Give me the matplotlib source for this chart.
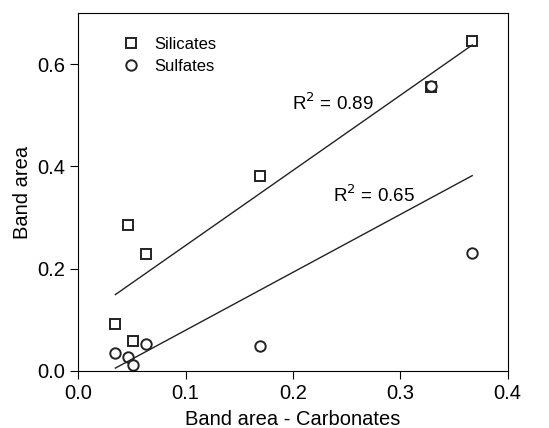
import numpy as np
import matplotlib
matplotlib.use('Agg')
from matplotlib import pyplot as plt

plt.rcParams['font.family'] = ['Liberation Sans', 'DejaVu Sans']

carbonates = [0.367, 0.329, 0.169, 0.046, 0.063, 0.0345, 0.051]
silicates = [0.646, 0.555, 0.382, 0.285, 0.228, 0.091, 0.059]
sulfates = [0.231, 0.558, 0.049, 0.027, 0.052, 0.034, 0.012]

r2_labels = ['R$^2$ = 0.89', 'R$^2$ = 0.65']

fig = plt.figure(figsize=(5.49, 4.28), dpi=100)
ax = fig.add_axes([0.1427, 0.1339, 0.782, 0.835])

x = np.array(carbonates)
ax.plot(x, silicates, 's', ms=7, mfc='white', mec='#222222', mew=1.4, label='Silicates')
ax.plot(x, sulfates, 'o', ms=7.5, mfc='white', mec='#222222', mew=1.4, label='Sulfates')

# regression lines over the data range
xs = np.array([x.min(), x.max()])
for ys in (silicates, sulfates):
    k, b = np.polyfit(x, ys, 1)
    ax.plot(xs, k * xs + b, color='#222222', lw=1.0)

ax.text(0.199, 0.523, r2_labels[0], fontsize=13.5, va='center')
ax.text(0.2376, 0.343, r2_labels[1], fontsize=13.5, va='center')

ax.set_xlim(0, 0.4)
ax.set_ylim(0, 0.7)
ax.set_xticks([0.0, 0.1, 0.2, 0.3, 0.4])
ax.set_yticks([0.0, 0.2, 0.4, 0.6])
ax.tick_params(labelsize=14.5, direction='out', length=6, top=False, right=False)
ax.set_xlabel('Band area - Carbonates', fontsize=14.5, labelpad=5)
ax.set_ylabel('Band area', fontsize=14.5)

ax.legend(loc='upper left', frameon=False, fontsize=12, bbox_to_anchor=(0.065, 0.975),
          handletextpad=0.8, labelspacing=0.4, handlelength=1.2)

fig.savefig('out.png', dpi=100)
